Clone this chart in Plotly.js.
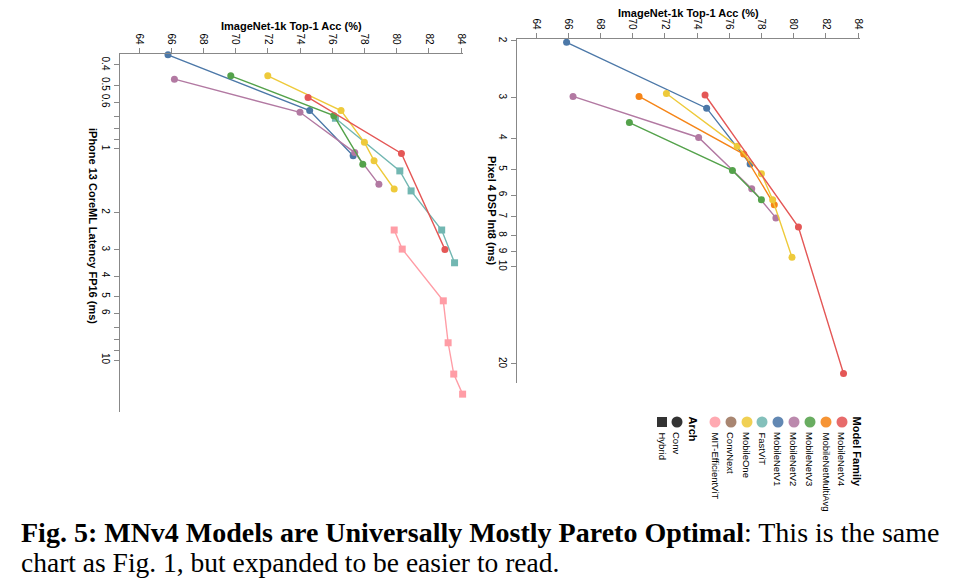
<!DOCTYPE html>
<html><head><meta charset="utf-8">
<script src="https://cdn.plot.ly/plotly-3.0.1.min.js"></script>
<style>html,body{margin:0;padding:0;background:#fff;} #chart{width:973px;height:586px;}</style>
</head><body><div id="chart"></div>
<script>
// ---------- data ----------
const familyNames  = ['MobileNetV4','MobileNetMultiAvg','MobileNetV3','MobileNetV2','MobileNetV1','FastViT','MobileOne','ConvNext','MIT-EfficientViT'];
const familyColors = ['#e45756','#f58518','#54a24b','#b279a2','#4c78a8','#72b7b2','#eeca3b','#9d755d','#ff9da6'];
const familyArch   = ['Conv','Conv','Conv','Conv','Conv','Hybrid','Conv','Conv','Hybrid'];
const archNames    = ['Conv','Hybrid'];

// iPhone 13 CoreML latency FP16 (ms) vs ImageNet-1k Top-1 (%)
const iphoneV4Acc        = [74.5, 80.3, 83.0];
const iphoneV4Lat        = [0.57, 1.05, 2.99];
const iphoneV3Acc        = [69.7, 76.1, 77.9];
const iphoneV3Lat        = [0.45, 0.695, 1.18];
const iphoneV2Acc        = [66.2, 74.0, 77.4, 78.9];
const iphoneV2Lat        = [0.467, 0.67, 1.04, 1.47];
const iphoneV1Acc        = [65.8, 74.6, 77.3];
const iphoneV1Lat        = [0.358, 0.658, 1.076];
const iphoneFastViTAcc   = [76.2, 80.2, 80.9, 82.8, 83.6];
const iphoneFastViTLat   = [0.715, 1.27, 1.58, 2.42, 3.46];
const iphoneMobileOneAcc = [72.0, 76.55, 78.0, 78.6, 79.85];
const iphoneMobileOneLat = [0.45, 0.658, 0.93, 1.136, 1.547];
const iphoneMitAcc       = [79.85, 80.35, 82.9, 83.2, 83.55, 84.1];
const iphoneMitLat       = [2.42, 2.98, 5.24, 8.28, 11.65, 14.5];

// Pixel 4 DSP Int8 latency (ms) vs ImageNet-1k Top-1 (%)
const pixelV4Acc         = [74.5, 80.3, 83.1];
const pixelV4Lat         = [2.94, 7.54, 21.4];
const pixelMultiAvgAcc   = [70.4, 76.9, 78.8];
const pixelMultiAvgLat   = [2.97, 4.48, 6.43];
const pixelV3Acc         = [69.8, 76.2, 78.0];
const pixelV3Lat         = [3.58, 5.04, 6.2];
const pixelV2Acc         = [66.3, 74.1, 77.4, 78.9];
const pixelV2Lat         = [2.97, 3.98, 5.74, 7.06];
const pixelV1Acc         = [65.9, 74.6, 77.3];
const pixelV1Lat         = [2.02, 3.23, 4.81];
const pixelMobileOneAcc  = [72.1, 76.5, 78.0, 78.7, 79.9];
const pixelMobileOneLat  = [2.91, 4.24, 5.15, 6.2, 9.35];

const accTicks        = [64, 66, 68, 70, 72, 74, 76, 78, 80, 82, 84];
const iphoneLatTicks  = [0.4, 0.5, 0.6, 0.7, 0.8, 0.9, 1, 2, 3, 4, 5, 6, 7, 8, 9, 10];
const iphoneLatLabels = ['0.4','0.5','0.6','','','','1','2','3','4','5','6','','','','10'];
const pixelLatTicks   = [2, 3, 4, 5, 6, 7, 8, 9, 10, 20];
const pixelLatLabels  = ['2','3','4','5','6','7','8','9','10','20'];

const accTitle    = 'ImageNet-1k Top-1 Acc (%)';
const iphoneTitle = 'iPhone 13 CoreML Latency FP16 (ms)';
const pixelTitle  = 'Pixel 4 DSP Int8 (ms)';
const legendFamilyTitle = 'Model Family';
const legendArchTitle   = 'Arch';
const captionBold = 'Fig. 5: MNv4 Models are Universally Mostly Pareto Optimal';
const captionRest = ': This is the same';
const captionLine2 = 'chart as Fig. 1, but expanded to be easier to read.';

// ---------- build ----------
const W = 973, H = 586;
const FONT = 'Liberation Sans, Arial, sans-serif';
function fam(name){ return familyNames.indexOf(name); }
function series(name, acc, lat, xa, ya){
  const i = fam(name);
  return {
    type:'scatter', mode:'lines+markers', x:acc, y:lat, xaxis:xa, yaxis:ya,
    line:{color:familyColors[i], width:1.4},
    marker:{color:familyColors[i], size:7, opacity:1, symbol: familyArch[i]==='Hybrid' ? 'square' : 'circle', line:{width:0}},
    cliponaxis:false, showlegend:false, hoverinfo:'x+y+name', name:name
  };
}
const traces = [
  series('MIT-EfficientViT', iphoneMitAcc, iphoneMitLat, 'x', 'y'),
  series('FastViT', iphoneFastViTAcc, iphoneFastViTLat, 'x', 'y'),
  series('MobileNetV1', iphoneV1Acc, iphoneV1Lat, 'x', 'y'),
  series('MobileNetV2', iphoneV2Acc, iphoneV2Lat, 'x', 'y'),
  series('MobileNetV3', iphoneV3Acc, iphoneV3Lat, 'x', 'y'),
  series('MobileOne', iphoneMobileOneAcc, iphoneMobileOneLat, 'x', 'y'),
  series('MobileNetV4', iphoneV4Acc, iphoneV4Lat, 'x', 'y'),

  series('MobileNetV1', pixelV1Acc, pixelV1Lat, 'x2', 'y2'),
  series('MobileNetV2', pixelV2Acc, pixelV2Lat, 'x2', 'y2'),
  series('MobileNetV3', pixelV3Acc, pixelV3Lat, 'x2', 'y2'),
  series('MobileNetMultiAvg', pixelMultiAvgAcc, pixelMultiAvgLat, 'x2', 'y2'),
  series('MobileOne', pixelMobileOneAcc, pixelMobileOneLat, 'x2', 'y2'),
  series('MobileNetV4', pixelV4Acc, pixelV4Lat, 'x2', 'y2'),
];

// legend (rotated, drawn in a pixel-space overlay axis)
const famX = [842, 826, 810, 794, 778, 762, 747, 731, 715];
const archX = [677, 662];
traces.push({
  type:'scatter', mode:'markers', xaxis:'x3', yaxis:'y3', showlegend:false, hoverinfo:'skip',
  x: famX, y: famX.map(()=>422),
  marker:{color:familyColors, size:11, opacity:0.88, symbol:'circle', line:{width:0}}
});
traces.push({
  type:'scatter', mode:'markers', xaxis:'x3', yaxis:'y3', showlegend:false, hoverinfo:'skip',
  x: [archX[0]], y: [422],
  marker:{color:'#333', size:11, opacity:1, symbol:'circle', line:{width:0}}
});
traces.push({
  type:'scatter', mode:'markers', xaxis:'x3', yaxis:'y3', showlegend:false, hoverinfo:'skip',
  x: [archX[1]], y: [422],
  marker:{color:'#333', size:10, opacity:1, symbol:'square', line:{width:0}}
});

function annot(text, x, y, opts){
  return Object.assign({text:text, x:x, y:y, xref:'x3', yref:'y3', showarrow:false,
    font:{family:FONT, size:10, color:'#000'}}, opts||{});
}
const annotations = [];
annotations.push(annot('<b>'+accTitle+'</b>', 291.7, 26, {font:{family:FONT,size:11,color:'#000'}}));
annotations.push(annot('<b>'+accTitle+'</b>', 688.7, 13, {font:{family:FONT,size:11,color:'#000'}}));
annotations.push(annot('<b>'+iphoneTitle+'</b>', 93, 226, {textangle:90, font:{family:FONT,size:11,color:'#000'}}));
annotations.push(annot('<b>'+pixelTitle+'</b>', 492, 211, {textangle:90, font:{family:FONT,size:11,color:'#000'}}));

annotations.push(annot('<b>'+legendFamilyTitle+'</b>', 857, 414, {textangle:90, yanchor:'top', font:{family:FONT,size:11,color:'#000'}}));
familyNames.forEach((n,i)=>annotations.push(annot(n, famX[i], 430, {textangle:90, yanchor:'top', font:{family:FONT,size:9.5,color:'#000'}})));
annotations.push(annot('<b>'+legendArchTitle+'</b>', 693, 414, {textangle:90, yanchor:'top', font:{family:FONT,size:11,color:'#000'}}));
archNames.forEach((n,i)=>annotations.push(annot(n, archX[i], 430, {textangle:90, yanchor:'top', font:{family:FONT,size:9.5,color:'#000'}})));

annotations.push(annot('<b>'+captionBold+'</b>'+captionRest, 19, 532, {xanchor:'left', font:{family:'Liberation Serif, serif', size:28, color:'#000'}}));
annotations.push(annot(captionLine2, 19, 562, {xanchor:'left', font:{family:'Liberation Serif, serif', size:27.5, color:'#000'}}));

// axes
const accRange = [62.82, 84.15];
const pxPerAcc = 16.1;
function accAxis(leftPx){
  const rightPx = leftPx + (accRange[1]-accRange[0])*pxPerAcc;
  return {
    domain:[leftPx/W, rightPx/W], range:accRange, side:'top', showline:true, linecolor:'#888', linewidth:1,
    ticks:'outside', ticklen:5, tickcolor:'#888', tickvals:accTicks, tickangle:90,
    tickfont:{family:FONT, size:10, color:'#000'}, showgrid:false, zeroline:false, fixedrange:true
  };
}
function latAxis(topPx, botPx, logMin, logMax, vals, labels){
  return {
    type:'log', domain:[(H-botPx)/H, (H-topPx)/H], range:[logMax, logMin], showline:true, linecolor:'#888', linewidth:1,
    ticks:'outside', ticklen:5, tickcolor:'#888', tickvals:vals, ticktext:labels, tickangle:90,
    tickfont:{family:FONT, size:10, color:'#000'}, showgrid:false, zeroline:false, fixedrange:true
  };
}
const xaxis = accAxis(120); xaxis.anchor = 'y';
const xaxis2 = accAxis(517); xaxis2.anchor = 'y2';
const yaxis = latAxis(54, 412, -0.45, 1.246, iphoneLatTicks, iphoneLatLabels); yaxis.anchor = 'x';
const yaxis2 = latAxis(39, 383, 0.295, 1.360, pixelLatTicks, pixelLatLabels); yaxis2.anchor = 'x2';

const layout = {
  width:W, height:H, margin:{l:0,r:0,t:0,b:0}, paper_bgcolor:'#fff', plot_bgcolor:'rgba(0,0,0,0)',
  showlegend:false, font:{family:FONT, color:'#000'},
  xaxis:xaxis, yaxis:yaxis, xaxis2:xaxis2, yaxis2:yaxis2,
  xaxis3:{domain:[0,1], range:[0,W], visible:false, anchor:'y3', fixedrange:true},
  yaxis3:{domain:[0,1], range:[H,0], visible:false, anchor:'x3', fixedrange:true},
  annotations:annotations
};
Plotly.newPlot('chart', traces, layout, {displayModeBar:false, staticPlot:true});
</script></body></html>
